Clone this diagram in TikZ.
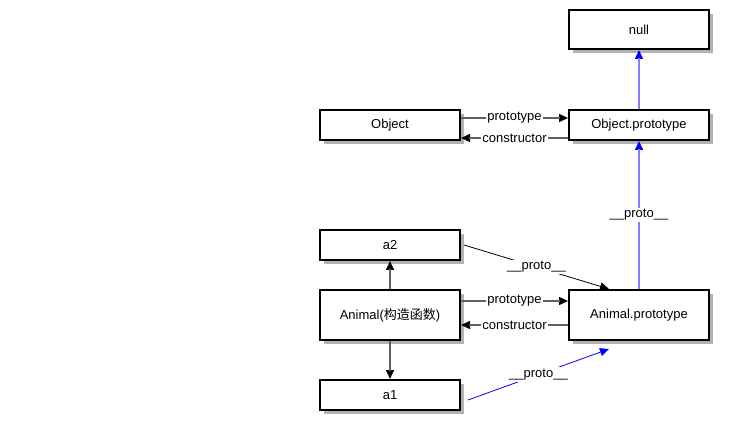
\documentclass[tikz,border=0pt]{standalone}
\usepackage{fontspec}
\setmainfont{Liberation Sans}
\newfontfamily\cjk{Noto Sans CJK SC}
\usetikzlibrary{positioning, arrows.meta, shadows}
\definecolor{linkgray}{HTML}{606060}
\definecolor{protoblue}{HTML}{8080FF}
\tikzset{objbox/.style={draw, line width=2pt, fill=white, minimum width=140pt, minimum height=30pt, inner sep=0pt,
    font=\fontsize{13}{15}\selectfont, drop shadow={shadow xshift=4pt, shadow yshift=-4pt, fill=black!30, opacity=1}},
  linkarrow/.style={draw=black, line width=1.5pt, -{Triangle[length=9pt, width=8pt]},
    postaction={draw=linkgray, -, shorten >=8pt}},
  chainarrow/.style={draw=blue, line width=1.5pt, -{Triangle[length=9pt, width=8pt]},
    postaction={draw=protoblue, -, shorten >=8pt}},
  thinarrow/.style={draw, line width=0.8pt, -{Triangle[length=9pt, width=8pt]}},
  lbl/.style={fill=white, inner sep=1.5pt, text=black, font=\fontsize{13}{15}\selectfont}}

\begin{document}
\begin{tikzpicture}[x=1pt, y=-1pt]
    \useasboundingbox (0,0) rectangle (731,430);
    \node[objbox] (object) at (390,125) {Object};
    \node[objbox, right=107pt of object] (objproto) {Object.prototype};
    \node[objbox, minimum height=39pt, above=59pt of objproto] (null) {null};
    \node[objbox, minimum height=50pt] (animal) at (390,315) {Animal({\cjk 构造函数})};
    \node[objbox, minimum height=50pt, right=107pt of animal] (animalproto) {Animal.prototype};
    \node[objbox, above=28pt of animal] (a2) {a2};
    \node[objbox, below=38pt of animal] (a1) {a1};
    \coordinate (a1start) at ([shift={(7pt,-5pt)}]a1.east);
    \coordinate (a1end) at ([shift={(-30pt,-8pt)}]animalproto.south);

    % Object <-> Object.prototype
    \draw[linkarrow] ([yshift=7pt]object.east) -- node[lbl] {prototype} ([yshift=7pt]objproto.west);
    \draw[linkarrow] ([yshift=-13pt]objproto.west) -- node[lbl] {constructor} ([yshift=-13pt]object.east);
    % Animal <-> Animal.prototype
    \draw[linkarrow] ([yshift=14pt]animal.east) -- node[lbl] {prototype} ([yshift=14pt]animalproto.west);
    \draw[linkarrow] ([yshift=-10pt]animalproto.west) -- node[lbl] {constructor} ([yshift=-10pt]animal.east);
    \draw[linkarrow] (animal) -- (a2);
    \draw[linkarrow] (animal) -- (a1);

    % prototype chain
    \draw[chainarrow] (objproto) -- (null);
    \draw[chainarrow] (animalproto) -- node[lbl, pos=0.5] {\_\_proto\_\_} (objproto);
    \draw[thinarrow] ([xshift=3pt]a2.east) -- node[lbl] {\_\_proto\_\_} ([xshift=-30pt]animalproto.north);
    \draw[thinarrow, draw=blue] (a1start) -- node[lbl] {\_\_proto\_\_} (a1end);
\end{tikzpicture}
\end{document}
